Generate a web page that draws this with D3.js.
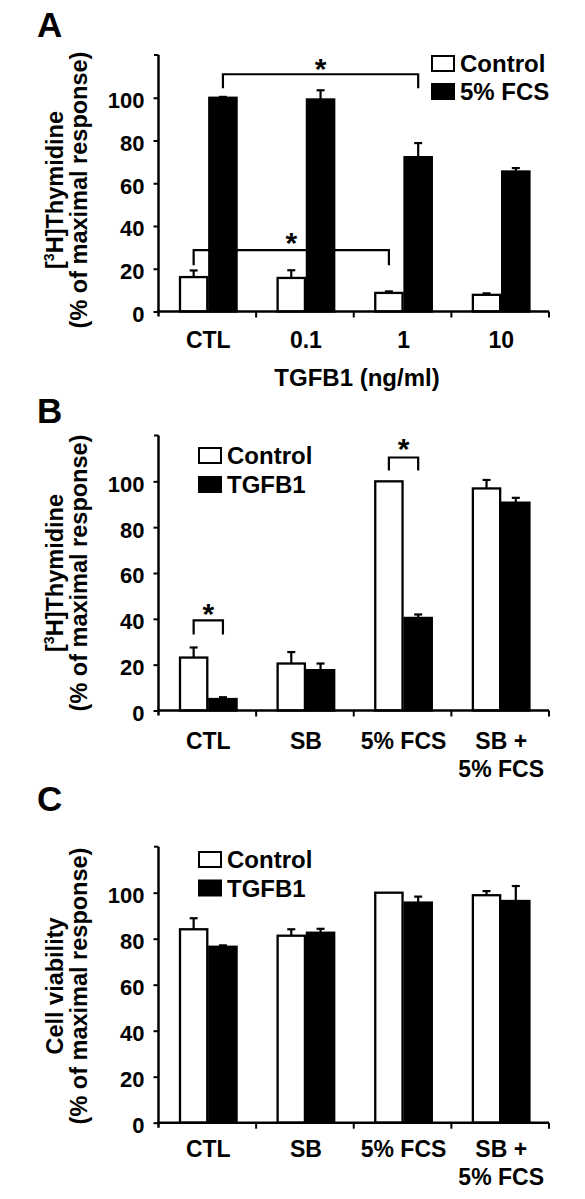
<!DOCTYPE html>
<html>
<head>
<meta charset="utf-8">
<script src="https://cdn.jsdelivr.net/npm/d3@7"></script>
<style>
  html, body { margin: 0; padding: 0; background: #fff; }
  svg { display: block; }
  text { font-family: "Liberation Sans", Arial, sans-serif; font-weight: bold; fill: #000; }
</style>
</head>
<body>
<svg id="chart" width="585" height="1199"></svg>
<script>
// ---------- DATA ----------
const yTicks = [0, 20, 40, 60, 80, 100];

// Panel A
const catsA = [["CTL"], ["0.1"], ["1"], ["10"]];
const seriesA = ["Control", "5% FCS"];
const ctrlA = [16.1, 15.7, 8.7, 7.8];
const ctrlErrA = [3.1, 3.6, 0.7, 0.7];
const fcsA = [100, 99.2, 72.2, 65.5];
const fcsErrA = [0.4, 4.3, 6.6, 1.6];
const xTitleA = "TGFB1 (ng/ml)";

// Panel B
const catsBC = [["CTL"], ["SB"], ["5% FCS"], ["SB +", "5% FCS"]];
const seriesBC = ["Control", "TGFB1"];
const ctrlB = [23.1, 20.5, 100, 96.9];
const ctrlErrB = [4.4, 5.0, 0, 3.7];
const tgfB = [5.0, 17.6, 40.4, 90.7];
const tgfErrB = [0.8, 2.9, 1.5, 2.1];

// Panel C
const ctrlC = [84.1, 81.3, 100, 98.9];
const ctrlErrC = [4.8, 2.8, 0, 1.8];
const tgfC = [76.5, 82.6, 95.7, 96.4];
const tgfErrC = [0.6, 1.7, 2.6, 6.5];

// ---------- DRAW ----------
const svg = d3.select("#chart");

function panel(opt) {
  const g = svg.append("g");
  const x = d3.scaleBand().domain(d3.range(opt.cats.length)).range([158.5, 549]).padding(0);
  const sub = d3.scaleBand().domain([0, 1]).range([0, x.bandwidth() * 0.6]).padding(0);
  const off = x.bandwidth() * 0.21;
  const y = d3.scaleLinear().domain([0, 120]).range([opt.y0, opt.yTop]);

  // panel letter
  g.append("text").attr("x", 37).attr("y", opt.letterY).attr("font-size", 35).text(opt.letter);

  // y title (two lines, rotated)
  const tc = opt.titleCy;
  opt.yTitle.forEach((line, i) => {
    const t = g.append("text")
      .attr("transform", `translate(${i === 0 ? 63 : 87},${tc}) rotate(-90)`)
      .attr("text-anchor", "middle").attr("font-size", 23.5);
    line.forEach(seg => {
      if (seg.sup) t.append("tspan").attr("font-size", 14).attr("dy", -9).text(seg.t);
      else t.append("tspan").attr("dy", seg.after ? 9 : 0).text(seg.t);
    });
  });

  // brackets (drawn before bars, bars overlap them)
  (opt.brackets || []).forEach(b => {
    const xa = x(b.from[0]) + off + sub(b.from[1]) + sub.bandwidth() / 2;
    const xb = x(b.to[0]) + off + sub(b.to[1]) + sub.bandwidth() / 2;
    const yl = y(b.level);
    g.append("path")
      .attr("d", `M${xa},${yl + b.drop}V${yl}H${xb}V${yl + b.drop}`)
      .attr("fill", "none").attr("stroke", "#000").attr("stroke-width", 2.2);
    g.append("text").attr("x", (xa + xb) / 2).attr("y", yl - b.starGap + 30 * 0.55)
      .attr("text-anchor", "middle").attr("font-size", 30).text("*");
  });

  // bars
  const series = [
    { vals: opt.s0, errs: opt.e0, fill: "#fff" },
    { vals: opt.s1, errs: opt.e1, fill: "#000" }
  ];
  series.forEach((s, si) => {
    s.vals.forEach((v, ci) => {
      const bx = x(ci) + off + sub(si);
      const bw = sub.bandwidth();
      const top = y(v);
      const cx = bx + bw / 2;
      if (s.errs[ci] > 0) {
        const ye = y(v + s.errs[ci]);
        g.append("line").attr("x1", cx).attr("x2", cx).attr("y1", top).attr("y2", ye)
          .attr("stroke", "#000").attr("stroke-width", 2.2);
        g.append("line").attr("x1", cx - 4).attr("x2", cx + 4).attr("y1", ye).attr("y2", ye)
          .attr("stroke", "#000").attr("stroke-width", 2.2);
      }
      g.append("rect").attr("x", bx + 1).attr("y", top).attr("width", bw - 2)
        .attr("height", y(0) - top).attr("fill", s.fill)
        .attr("stroke", "#000").attr("stroke-width", 2.3);
    });
  });

  // y axis
  const ya = g.append("g").attr("transform", "translate(158.5,0)")
    .call(d3.axisLeft(y).tickValues(yTicks).tickSize(5).tickPadding(9).tickFormat(d3.format("d")));
  ya.select(".domain").remove();
  ya.selectAll(".tick line").attr("stroke", "#000").attr("stroke-width", 2);
  ya.selectAll(".tick text").attr("font-size", 22).attr("font-family", null).attr("font-weight", null)
    .attr("dy", "0.45em");
  g.append("line").attr("x1", 158.5).attr("x2", 158.5).attr("y1", y(0) + 5).attr("y2", y(120))
    .attr("stroke", "#000").attr("stroke-width", 2.5);
  g.append("line").attr("x1", 154).attr("x2", 158.5).attr("y1", y(120)).attr("y2", y(120))
    .attr("stroke", "#000").attr("stroke-width", 2);

  // x axis
  g.append("line").attr("x1", 157).attr("x2", 549).attr("y1", y(0)).attr("y2", y(0))
    .attr("stroke", "#000").attr("stroke-width", 2.5);
  d3.range(opt.cats.length).forEach(i => {
    const tx = x(i) + x.bandwidth();
    g.append("line").attr("x1", tx).attr("x2", tx).attr("y1", y(0)).attr("y2", y(0) + 6)
      .attr("stroke", "#000").attr("stroke-width", 2);
  });
  opt.cats.forEach((lines, i) => {
    lines.forEach((l, li) => {
      g.append("text").attr("x", x(i) + x.bandwidth() / 2 + 1).attr("y", y(0) + opt.labelGap + li * 28.5)
        .attr("text-anchor", "middle").attr("font-size", 23).text(l);
    });
  });
  if (opt.xTitle) {
    g.append("text").attr("x", 357).attr("y", y(0) + 74).attr("text-anchor", "middle")
      .attr("font-size", 24).text(opt.xTitle);
  }

  // legend
  const L = opt.legend;
  opt.series.forEach((name, i) => {
    const ly = L.y + i * L.dy;
    g.append("rect").attr("x", L.x).attr("y", ly).attr("width", 22).attr("height", 15)
      .attr("fill", i === 0 ? "#fff" : "#000").attr("stroke", "#000").attr("stroke-width", 2);
    g.append("text").attr("x", L.x + 28).attr("y", ly + 16).attr("font-size", 24).text(name);
  });
}

panel({
  letter: "A", letterY: 37,
  cats: catsA, series: seriesA,
  s0: ctrlA, e0: ctrlErrA, s1: fcsA, e1: fcsErrA,
  y0: 311.5, yTop: 55,
  titleCy: 190,
  yTitle: [[{ t: "[" }, { t: "3", sup: true }, { t: "H]Thymidine", after: true }], [{ t: "(% of maximal response)" }]],
  labelGap: 36, xTitle: xTitleA,
  legend: { x: 432, y: 56, dy: 28 },
  brackets: [
    { from: [0, 1], to: [2, 1], level: 111, drop: 14, starGap: 12 },
    { from: [0, 0], to: [2, 0], level: 28.7, drop: 15, starGap: 14 }
  ]
});

panel({
  letter: "B", letterY: 423,
  cats: catsBC, series: seriesBC,
  s0: ctrlB, e0: ctrlErrB, s1: tgfB, e1: tgfErrB,
  y0: 710.5, yTop: 435.5,
  titleCy: 573,
  yTitle: [[{ t: "[" }, { t: "3", sup: true }, { t: "H]Thymidine", after: true }], [{ t: "(% of maximal response)" }]],
  labelGap: 38,
  legend: { x: 199, y: 448, dy: 29 },
  brackets: [
    { from: [0, 0], to: [0, 1], level: 39.3, drop: 14, starGap: 12.5 },
    { from: [2, 0], to: [2, 1], level: 110.4, drop: 13, starGap: 15 }
  ]
});

panel({
  letter: "C", letterY: 811,
  cats: catsBC, series: seriesBC,
  s0: ctrlC, e0: ctrlErrC, s1: tgfC, e1: tgfErrC,
  y0: 1122.7, yTop: 846.7,
  titleCy: 986,
  yTitle: [[{ t: "Cell viability" }], [{ t: "(% of maximal response)" }]],
  labelGap: 34,
  legend: { x: 199, y: 852, dy: 28.5 }
});
</script>
</body>
</html>
